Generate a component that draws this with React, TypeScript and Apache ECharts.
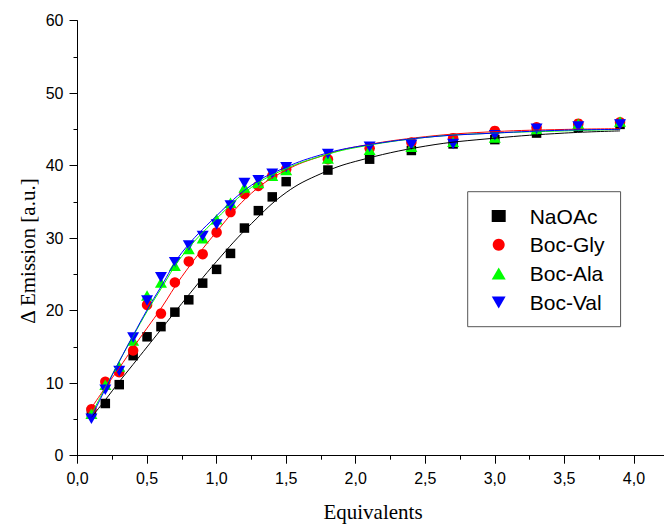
import React, { useEffect, useRef } from "react";
import * as echarts from "echarts";

// Measured points
const xData = [0.1, 0.2, 0.3, 0.4, 0.5, 0.6, 0.7, 0.8, 0.9, 1.0, 1.1, 1.2, 1.3, 1.4, 1.5, 1.8, 2.1, 2.4, 2.7, 3.0, 3.3, 3.6, 3.9];
const naOAc = [6.0, 7.2, 9.8, 13.8, 16.4, 17.8, 19.8, 21.5, 23.8, 25.7, 27.9, 31.4, 33.8, 35.7, 37.8, 39.4, 40.9, 42.1, 43.0, 43.6, 44.5, 45.3, 45.7];
const bocGly = [6.4, 10.2, 11.5, 14.5, 20.8, 19.6, 23.9, 26.8, 27.8, 30.8, 33.6, 36.1, 37.2, 38.6, 39.5, 40.9, 42.4, 43.2, 43.8, 44.8, 45.3, 45.8, 46.0];
const bocAla = [5.8, 9.8, 12.3, 15.9, 22.1, 23.9, 26.2, 28.5, 30.0, 32.6, 34.9, 37.0, 37.6, 38.6, 39.4, 41.0, 42.2, 42.6, 43.3, 43.9, 45.0, 45.8, 46.1];
const bocVal = [5.1, 9.1, 11.7, 16.3, 21.4, 24.6, 26.7, 29.0, 30.3, 31.9, 34.5, 37.6, 38.0, 38.9, 39.8, 41.6, 42.6, 42.9, 43.0, 44.2, 45.1, 45.4, 45.7];

// Fitted curves
const fitX = [0.1, 0.2, 0.3, 0.4, 0.5, 0.6, 0.75, 1.0, 1.25, 1.5, 1.75, 2.0, 2.5, 3.0, 3.5, 3.9];
const fitNaOAc = [5.3, 7.7, 10.2, 12.6, 15.0, 17.4, 21.0, 26.8, 32.0, 36.3, 38.9, 40.6, 42.7, 43.8, 44.5, 44.8];
const fitBocGly = [6.6, 9.4, 12.1, 14.9, 17.6, 20.3, 24.7, 30.9, 36.2, 39.4, 41.3, 42.6, 44.0, 44.7, 45.0, 45.1];
const fitBocAla = [5.7, 9.4, 13.0, 16.5, 19.9, 23.0, 27.5, 32.7, 37.0, 39.6, 41.3, 42.5, 43.9, 44.5, 44.8, 45.0];
const fitBocVal = [5.3, 9.2, 13.0, 16.6, 20.1, 23.3, 28.0, 33.1, 37.3, 39.8, 41.5, 42.6, 43.9, 44.5, 44.9, 45.0];

const seriesNames = ["NaOAc", "Boc-Gly", "Boc-Ala", "Boc-Val"];
const xTitle = "Equivalents";
const yTitle = "Δ Emission [a.u.]";

const pair = (xs: number[], ys: number[]) => xs.map((x, i) => [x, ys[i]]);

export default function App() {
  const ref = useRef<HTMLDivElement>(null);
  useEffect(() => {
    document.body.style.margin = "0";
    const chart = echarts.init(ref.current!, undefined, { renderer: "svg" });
    const groups = [
      { name: seriesNames[0], pts: naOAc, fit: fitNaOAc, color: "#000000", symbol: "rect", size: 9.5 as any, rotate: 0 },
      { name: seriesNames[1], pts: bocGly, fit: fitBocGly, color: "#ff0000", symbol: "circle", size: 10.5 as any, rotate: 0 },
      { name: seriesNames[2], pts: bocAla, fit: fitBocAla, color: "#00ff00", symbol: "triangle", size: [12, 10.5] as any, rotate: 0 },
      { name: seriesNames[3], pts: bocVal, fit: fitBocVal, color: "#0000ff", symbol: "triangle", size: [12, 10.5] as any, rotate: 180 },
    ];
    const series: any[] = [];
    groups.forEach((g) => {
      series.push({
        type: "line",
        name: g.name + " fit",
        data: pair(fitX, g.fit),
        smooth: 0.4,
        showSymbol: false,
        silent: true,
        lineStyle: { color: g.color, width: 1 },
        itemStyle: { color: g.color },
      });
      series.push({
        type: "scatter",
        name: g.name,
        data: pair(xData, g.pts),
        symbol: g.symbol,
        symbolSize: g.size,
        symbolRotate: g.rotate,
        symbolKeepAspect: true,
        itemStyle: { color: g.color, opacity: 1 },
      });
    });
    const axisCommon = {
      axisLine: { show: true, lineStyle: { color: "#000", width: 1 } },
      axisTick: { show: true, inside: false, length: 8, lineStyle: { color: "#000", width: 1 } },
      minorTick: { show: true, splitNumber: 2, length: 4, lineStyle: { color: "#000", width: 1 } },
      splitLine: { show: false },
      minorSplitLine: { show: false },
    };
    chart.setOption({
      animation: false,
      grid: { left: 77.5, top: 20.7, width: 626, height: 435, containLabel: false, outerBoundsMode: "none" },
      xAxis: {
        type: "value",
        min: 0,
        max: 4.5,
        interval: 0.5,
        ...axisCommon,
        axisLabel: {
          margin: 15,
          color: "#000",
          fontFamily: "Liberation Sans",
          fontSize: 16,
          formatter: (v: number) => (v > 4.01 ? "" : v.toFixed(1).replace(".", ",")),
        },
      },
      yAxis: {
        type: "value",
        min: 0,
        max: 60,
        interval: 10,
        ...axisCommon,
        axisLabel: {
          margin: 14,
          color: "#000",
          fontFamily: "Liberation Sans",
          fontSize: 16,
        },
      },
      legend: {
        data: [
          { name: seriesNames[0] },
          { name: seriesNames[1] },
          { name: seriesNames[2] },
          { name: seriesNames[3], icon: "path://M0,0 L12,0 L6,10.4 Z" },
        ],
        orient: "vertical",
        left: 467.7,
        top: 191.7,
        padding: [13.8, 16.2, 13.8, 24],
        itemWidth: 14,
        itemHeight: 12,
        itemGap: 7.8,
        borderColor: "#555",
        borderWidth: 1,
        backgroundColor: "#fff",
        selectedMode: false,
        textStyle: { color: "#000", fontFamily: "Liberation Sans", fontSize: 21, padding: [0, 0, 0, 19] },
      },
      graphic: [
        {
          type: "text",
          x: 373,
          y: 512,
          style: { text: xTitle, font: "21px 'Liberation Serif'", fill: "#000", align: "center", verticalAlign: "middle" },
        },
        {
          type: "text",
          x: 28,
          y: 251,
          rotation: Math.PI / 2,
          style: { text: yTitle, font: "21px 'Liberation Serif'", fill: "#000", align: "center", verticalAlign: "middle" },
        },
      ],
      series,
    });
    return () => chart.dispose();
  }, []);
  return <div ref={ref} style={{ position: "absolute", left: 0, top: 0, width: 664, height: 527 }} />;
}
